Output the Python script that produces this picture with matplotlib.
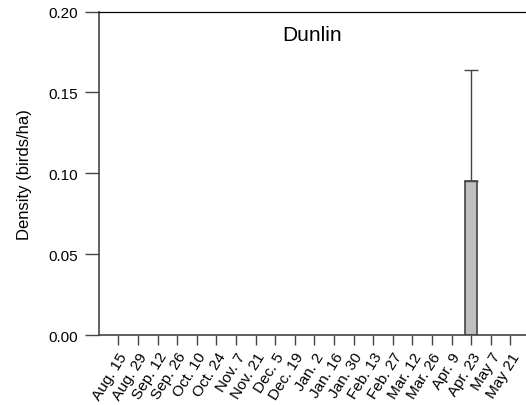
import matplotlib
matplotlib.use('Agg')
import matplotlib.pyplot as plt

plt.rcParams['font.family'] = ['Liberation Sans', 'DejaVu Sans']

fechas = ['Aug. 15', 'Aug. 29', 'Sep. 12', 'Sep. 26', 'Oct. 10', 'Oct. 24', 'Nov. 7',
          'Nov. 21', 'Dec. 5', 'Dec. 19', 'Jan. 2', 'Jan. 16', 'Jan. 30', 'Feb. 13',
          'Feb. 27', 'Mar. 12', 'Mar. 26', 'Apr. 9', 'Apr. 23', 'May 7', 'May 21']
densidad = [0, 0, 0, 0, 0, 0, 0, 0, 0, 0, 0, 0, 0, 0, 0, 0, 0, 0, 0.095, 0, 0]
error_sup = [0, 0, 0, 0, 0, 0, 0, 0, 0, 0, 0, 0, 0, 0, 0, 0, 0, 0, 0.069, 0, 0]

cor_eixo = '#444444'

fig = plt.figure(figsize=(5.26, 4.06), dpi=100)
ax = fig.add_axes([0.188, 0.1724, 0.812, 0.7966])

x = list(range(len(fechas)))
# so desenha as barras com valor (as outras sao zero)
xs = [i for i, v in zip(x, densidad) if v > 0]
ys = [v for v in densidad if v > 0]
es = [e for v, e in zip(densidad, error_sup) if v > 0]
ax.bar(xs, ys, width=0.62, color='#c0c0c0', edgecolor=cor_eixo, linewidth=1.2, zorder=2)
ax.errorbar(xs, ys, yerr=[[0] * len(es), es], fmt='none', ecolor=cor_eixo,
            elinewidth=1.0, capsize=5, capthick=1.0, zorder=3)

ax.set_xlim(-1.0, 20.8)
ax.set_ylim(0, 0.2)
ax.set_yticks([0, 0.05, 0.10, 0.15, 0.20])
ax.set_yticklabels(['0.00', '0.05', '0.10', '0.15', '0.20'], fontsize=11)
ax.set_xticks(x)
ax.set_xticklabels(fechas, rotation=58, ha='right', rotation_mode='anchor', fontsize=11)

ax.spines['right'].set_visible(False)
for s in ['left', 'bottom', 'top']:
    ax.spines[s].set_color(cor_eixo)
    ax.spines[s].set_linewidth(1.2)
ax.spines['top'].set_color('black')
ax.spines['top'].set_linewidth(0.9)
ax.tick_params(axis='y', direction='out', length=10, width=1.0, color=cor_eixo, pad=5)
ax.tick_params(axis='x', direction='out', length=7.5, width=1.0, color=cor_eixo, pad=3)

ax.set_ylabel('Density (birds/ha)', fontsize=12, labelpad=12)
ax.text(0.50, 0.93, 'Dunlin', transform=ax.transAxes, ha='center', va='center', fontsize=15)

plt.savefig('out.png', dpi=100)
